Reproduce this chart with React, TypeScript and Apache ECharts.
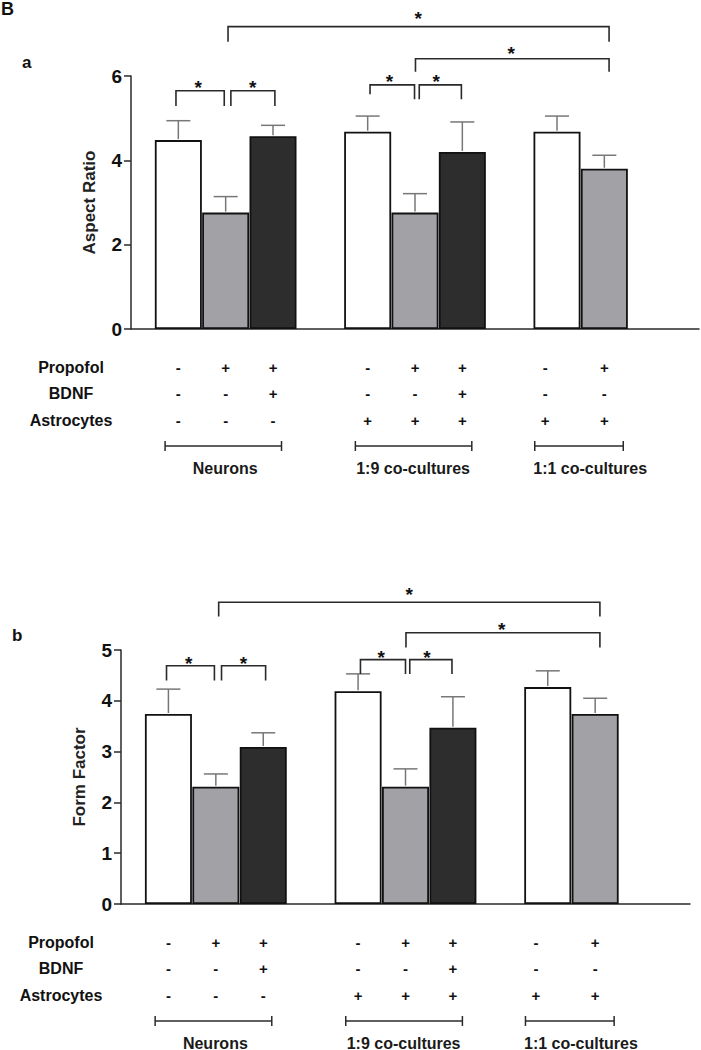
import React, { useEffect, useRef } from "react";
import * as echarts from "echarts";

// ---------- data ----------
const barX = [1, 2, 3, 5, 6, 7, 9, 10];
const barShade = [0, 1, 2, 0, 1, 2, 0, 1];
const shadeColors = ["#ffffff", "#a2a2a6", "#2d2d2d"];

const aspectRatio = [4.48, 2.76, 4.57, 4.68, 2.76, 4.2, 4.68, 3.8];
const aspectRatioErr = [0.46, 0.38, 0.26, 0.37, 0.45, 0.71, 0.37, 0.32];
const formFactor = [3.74, 2.31, 3.09, 4.19, 2.31, 3.47, 4.27, 3.74];
const formFactorErr = [0.49, 0.25, 0.28, 0.34, 0.35, 0.61, 0.32, 0.31];

const rowNames = ["Propofol", "BDNF", "Astrocytes"];
const propofol = ["-", "+", "+", "-", "+", "+", "-", "+"];
const bdnf = ["-", "-", "+", "-", "-", "+", "-", "-"];
const astrocytes = ["-", "-", "-", "+", "+", "+", "+", "+"];
const signX = [1, 2, 3, 5, 6, 7, 8.75, 10];

const groupNames = ["Neurons", "1:9 co-cultures", "1:1 co-cultures"];
const groupSpans = [
  [0.72, 3.18],
  [4.74, 7.2],
  [8.53, 10.4],
];
const groupLabelX = [1.99, 5.96, 9.7];

// significance brackets: [x1, x2, yLine, yDropLeft, yDropRight, starX, starY]
const sigA = [
  [2.05, 10.1, 7.17, 6.81, 6.81, 6.07, 7.46],
  [6.01, 10.1, 6.41, 6.1, 6.1, 8.03, 6.62],
  [0.95, 1.97, 5.65, 5.29, 5.29, 1.42, 5.83],
  [2.11, 3.04, 5.65, 5.29, 5.29, 2.57, 5.83],
  [5.05, 5.99, 5.79, 5.57, 5.45, 5.46, 5.96],
  [6.09, 6.98, 5.79, 5.45, 5.45, 6.45, 5.96],
];
const sigB = [
  [2.06, 10.1, 5.94, 5.66, 5.66, 6.08, 6.17],
  [6.01, 10.1, 5.34, 5.05, 5.05, 8.03, 5.48],
  [0.96, 1.97, 4.69, 4.4, 4.4, 1.43, 4.82],
  [2.12, 3.05, 4.69, 4.4, 4.4, 2.58, 4.82],
  [5.05, 6.0, 4.81, 4.53, 4.53, 5.49, 4.94],
  [6.09, 6.98, 4.81, 4.53, 4.53, 6.45, 4.94],
];

const FONT = 'Arial, "Liberation Sans", Helvetica, sans-serif';
const LINE = "#2a2a2a";

function panelSeries(idx: number, vals: number[], errs: number[], sig: number[][]) {
  const axes = { xAxisIndex: idx, yAxisIndex: idx };
  const rowOffsets = [38, 64.5, 91];
  const signs = [propofol, bdnf, astrocytes];
  return [
    {
      type: "bar",
      ...axes,
      barWidth: 47,
      silent: true,
      itemStyle: { borderColor: "#111", borderWidth: 1.8 },
      data: barX.map((x, i) => ({
        value: [x, vals[i]],
        itemStyle: { color: shadeColors[barShade[i]] },
      })),
      z: 2,
    },
    {
      type: "custom",
      ...axes,
      silent: true,
      z: 3,
      data: barX.map((x) => [x, 0]),
      renderItem: (params: any, api: any) => {
        const i = params.dataIndex;
        const base = api.coord([barX[i], vals[i]]);
        const top = api.coord([barX[i], vals[i] + errs[i]]);
        const st = { stroke: "#777", lineWidth: 1.5 };
        return {
          type: "group",
          children: [
            { type: "line", shape: { x1: base[0], y1: base[1] - 1, x2: top[0], y2: top[1] }, style: st },
            { type: "line", shape: { x1: top[0] - 12, y1: top[1], x2: top[0] + 12, y2: top[1] }, style: st },
          ],
        };
      },
    },
    {
      type: "custom",
      ...axes,
      silent: true,
      clip: false,
      z: 4,
      data: sig.map((s) => [s[0], 0]),
      renderItem: (params: any, api: any) => {
        const s = sig[params.dataIndex];
        const a = api.coord([s[0], s[2]]);
        const b = api.coord([s[1], s[2]]);
        const dl = api.coord([s[0], s[3]]);
        const dr = api.coord([s[1], s[4]]);
        const star = api.coord([s[5], s[6]]);
        return {
          type: "group",
          children: [
            {
              type: "polyline",
              shape: { points: [[dl[0], dl[1]], [a[0], a[1]], [b[0], b[1]], [dr[0], dr[1]]] },
              style: { stroke: LINE, lineWidth: 1.6, fill: null },
            },
            {
              type: "text",
              x: star[0],
              y: star[1] + 4,
              style: {
                text: "*",
                fontSize: 19,
                fontWeight: "bold",
                fontFamily: FONT,
                fill: "#111",
                align: "center",
                verticalAlign: "middle",
              },
            },
          ],
        };
      },
    },
    {
      type: "custom",
      ...axes,
      silent: true,
      clip: false,
      data: barX.map((x) => [x, 0]),
      renderItem: (params: any, api: any) => {
        const i = params.dataIndex;
        const p = api.coord([signX[i], 0]);
        return {
          type: "group",
          children: rowOffsets.map((off, r) => ({
            type: "text",
            x: p[0],
            y: p[1] + off,
            style: {
              text: signs[r][i],
              fontSize: 15,
              fontWeight: "bold",
              fontFamily: FONT,
              fill: "#111",
              align: "center",
              verticalAlign: "middle",
            },
          })),
        };
      },
    },
    {
      type: "custom",
      ...axes,
      silent: true,
      clip: false,
      data: [[0, 0]],
      renderItem: (params: any, api: any) => {
        const p = api.coord([0, 0]);
        return {
          type: "group",
          children: rowNames.map((name, r) => ({
            type: "text",
            x: p[0] - 60,
            y: p[1] + rowOffsets[r],
            style: {
              text: name,
              fontSize: 16,
              fontWeight: "bold",
              fontFamily: FONT,
              fill: "#111",
              align: "center",
              verticalAlign: "middle",
            },
          })),
        };
      },
    },
    {
      type: "custom",
      ...axes,
      silent: true,
      clip: false,
      data: groupNames.map((_, g) => [groupLabelX[g], 0]),
      renderItem: (params: any, api: any) => {
        const g = params.dataIndex;
        const l = api.coord([groupSpans[g][0], 0]);
        const r = api.coord([groupSpans[g][1], 0]);
        const c = api.coord([groupLabelX[g], 0]);
        const y = l[1] + 117;
        const st = { stroke: LINE, lineWidth: 1.5 };
        return {
          type: "group",
          children: [
            { type: "line", shape: { x1: l[0], y1: y, x2: r[0], y2: y }, style: st },
            { type: "line", shape: { x1: l[0], y1: y - 5, x2: l[0], y2: y + 5 }, style: st },
            { type: "line", shape: { x1: r[0], y1: y - 5, x2: r[0], y2: y + 5 }, style: st },
            {
              type: "text",
              x: c[0],
              y: l[1] + 139,
              style: {
                text: groupNames[g],
                fontSize: 16,
                fontWeight: "bold",
                fontFamily: FONT,
                fill: "#1a1a1a",
                align: "center",
                verticalAlign: "middle",
              },
            },
          ],
        };
      },
    },
  ];
}

function yAxisCfg(idx: number, name: string, max: number, interval: number) {
  return {
    gridIndex: idx,
    type: "value",
    min: 0,
    max,
    interval,
    name,
    nameLocation: "middle",
    nameGap: 33,
    nameTextStyle: { fontSize: 17, fontWeight: "bold", fontFamily: FONT, color: "#222" },
    axisLine: { show: true, lineStyle: { color: LINE, width: 1.5 } },
    axisTick: { show: true, length: 7, lineStyle: { color: LINE, width: 1.5 } },
    axisLabel: { fontSize: 19, fontWeight: "bold", fontFamily: FONT, color: "#111", margin: 9 },
    splitLine: { show: false },
  };
}

function xAxisCfg(idx: number) {
  return {
    gridIndex: idx,
    type: "value",
    min: 0,
    max: 12,
    axisLine: { show: true, onZero: false, lineStyle: { color: LINE, width: 1.5 } },
    axisTick: { show: false },
    axisLabel: { show: false },
    splitLine: { show: false },
  };
}

export default function App() {
  const ref = useRef<HTMLDivElement>(null);
  useEffect(() => {
    if (!ref.current) return;
    const chart = echarts.init(ref.current, undefined, { renderer: "svg" });
    chart.setOption({
      animation: false,
      backgroundColor: "#ffffff",
      grid: [
        { left: 131, top: 76, width: 568, height: 253 },
        { left: 121, top: 650, width: 569, height: 254 },
      ],
      xAxis: [xAxisCfg(0), xAxisCfg(1)],
      yAxis: [yAxisCfg(0, "Aspect Ratio", 6, 2), yAxisCfg(1, "Form Factor", 5, 1)],
      graphic: [
        { type: "text", left: 1, top: 0, style: { text: "B", fontSize: 18, fontWeight: "bold", fontFamily: FONT, fill: "#111" } },
        { type: "text", left: 22, top: 54, style: { text: "a", fontSize: 17, fontWeight: "bold", fontFamily: FONT, fill: "#111" } },
        { type: "text", left: 12, top: 627, style: { text: "b", fontSize: 17, fontWeight: "bold", fontFamily: FONT, fill: "#111" } },
      ],
      series: [
        ...panelSeries(0, aspectRatio, aspectRatioErr, sigA),
        ...panelSeries(1, formFactor, formFactorErr, sigB),
      ],
    });
    return () => chart.dispose();
  }, []);
  return (
    <div
      ref={ref}
      style={{ position: "fixed", left: 0, top: 0, width: 701, height: 1050, background: "#fff" }}
    />
  );
}
